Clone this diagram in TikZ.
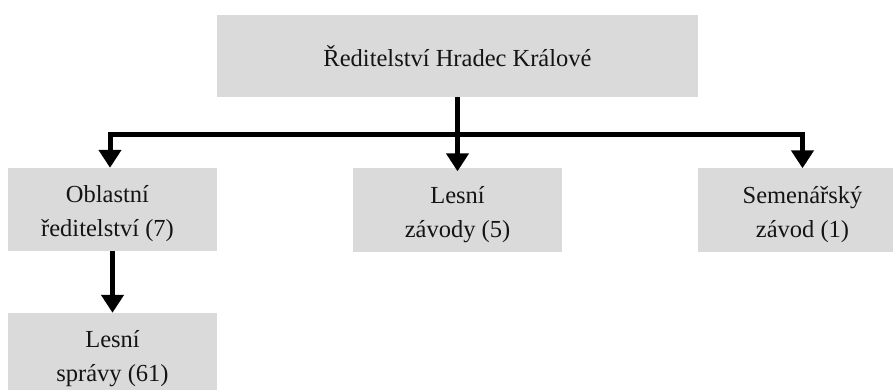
\documentclass[tikz,border=0pt]{standalone}
\usepackage{fontspec}
\setmainfont{Liberation Serif}
\usetikzlibrary{arrows.meta}
\definecolor{boxgray}{RGB}{218,218,218}
\definecolor{inkc}{RGB}{20,20,20}
\begin{document}
\begin{tikzpicture}[x=1pt,y=-1pt,
  box/.style={fill=boxgray, draw=none, minimum width=209pt, minimum height=83pt, inner sep=0pt},
  lbl/.style={font=\fontsize{24.5}{34}\selectfont, align=center, text=inkc, inner sep=0pt},
  conn/.style={line width=5pt, draw=black, -{Triangle[width=22pt,length=18pt]}}
]
\useasboundingbox (0,0) rectangle (893,390);
\clip (0,0) rectangle (893,390);
% boxes
\node[box, minimum width=481pt, minimum height=82pt] (top) at (457.5,56) {};
\node[lbl] (toptxt) at (top.center) {Ředitelství Hradec Králové};
\node[box] (obl) at (112.5,209.5) {};
\node[lbl] (obltxt) at ([xshift=-5pt,yshift=-4.5pt]obl.center) {Oblastní\\ředitelství (7)};
\node[box] (lz) at (457.5,210) {};
\node[lbl] (lztxt) at ([yshift=-4.5pt]lz.center) {Lesní\\závody (5)};
\node[box] (sem) at (802.5,210) {};
\node[lbl] (semtxt) at ([yshift=-4.5pt]sem.center) {Semenářský\\závod (1)};
\node[box] (ls) at (112.5,354.5) {};
\node[lbl] (lstxt) at ([yshift=-4.5pt]ls.center) {Lesní\\správy (61)};
% connectors
\coordinate (bar) at (458,135);
\draw[conn] (bar) -| ([xshift=-2.5pt]obl.north);
\draw[conn] (bar) -| (sem.north);
\draw[conn, shorten >=-3pt] (top.south) -- (lz.north);
\draw[conn] (obl.south) -- (ls.north);
\end{tikzpicture}
\end{document}
